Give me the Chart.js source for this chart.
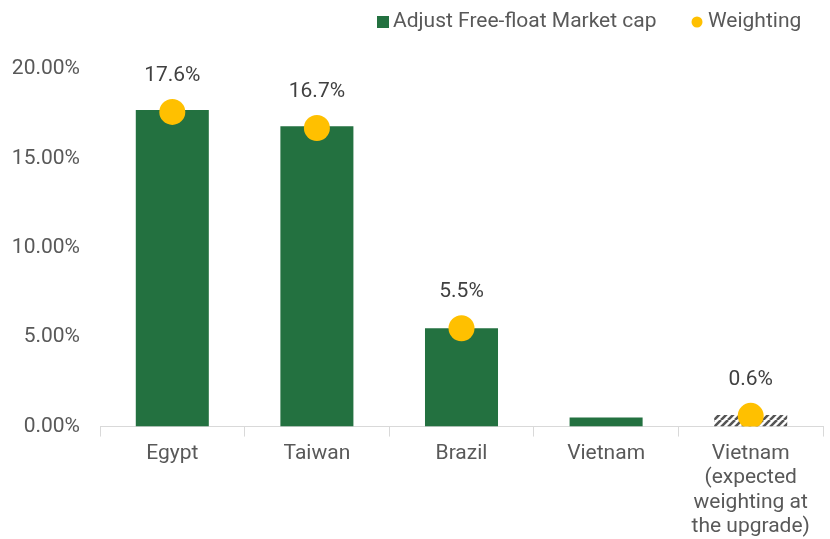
<!DOCTYPE html>
<html>
<head>
<meta charset="utf-8">
<script src="https://cdn.jsdelivr.net/npm/chart.js@4/dist/chart.umd.min.js"></script>
<style>
html,body{margin:0;padding:0;background:#fff;}
#wrap{width:830px;height:539px;}
</style>
</head>
<body>
<div id="wrap"><canvas id="c" width="830" height="539"></canvas></div>
<script>
const categories = [["Egypt"], ["Taiwan"], ["Brazil"], ["Vietnam"], ["Vietnam", "(expected", "weighting at", "the upgrade)"]];
const marketCap = [17.7, 16.8, 5.5, 0.5, 0.65];
const weighting = [17.6, 16.7, 5.5, null, 0.6];
const weightingLabels = ["17.6%", "16.7%", "5.5%", null, "0.6%"];
const yTicks = [0, 5, 10, 15, 20];
const seriesNames = ["Adjust Free-float Market cap", "Weighting"];

const FONT = 'Roboto';
const green = '#237140';
const yellow = '#FFC000';

// hatched pattern
function makePattern() {
  const p = document.createElement('canvas');
  p.width = 7; p.height = 7;
  const g = p.getContext('2d');
  g.fillStyle = '#ffffff';
  g.fillRect(0, 0, 7, 7);
  g.strokeStyle = '#555555';
  g.lineWidth = 2.6;
  g.beginPath();
  for (let k = -7; k <= 14; k += 7) {
    g.moveTo(k, 7); g.lineTo(k + 7, 0);
  }
  g.stroke();
  return document.getElementById('c').getContext('2d').createPattern(p, 'repeat');
}
const hatch = makePattern();
const barColors = [green, green, green, green, hatch];

const labelPlugin = {
  id: 'dotLabels',
  afterDatasetsDraw(chart) {
    const meta = chart.getDatasetMeta(1);
    const ctx = chart.ctx;
    ctx.save();
    ctx.font = '21px ' + FONT;
    ctx.fillStyle = '#404040';
    ctx.textAlign = 'center';
    ctx.textBaseline = 'middle';
    meta.data.forEach((pt, i) => {
      if (weightingLabels[i] == null) return;
      ctx.fillText(weightingLabels[i], pt.x, pt.y - 36);
    });
    ctx.restore();
  }
};

const legendPlugin = {
  id: 'customLegend',
  afterDraw(chart) {
    const ctx = chart.ctx;
    ctx.save();
    ctx.font = '21px ' + FONT;
    ctx.textBaseline = 'middle';
    ctx.textAlign = 'left';
    const cy = 22;
    ctx.fillStyle = green;
    ctx.fillRect(377, cy - 6, 12, 12);
    ctx.fillStyle = '#595959';
    ctx.fillText(seriesNames[0], 393, cy);
    ctx.fillStyle = yellow;
    ctx.beginPath();
    ctx.arc(697, cy, 5.5, 0, Math.PI * 2);
    ctx.fill();
    ctx.fillStyle = '#595959';
    ctx.fillText(seriesNames[1], 708, cy);
    ctx.restore();
  }
};

new Chart(document.getElementById('c'), {
  data: {
    labels: categories,
    datasets: [
      {
        type: 'bar',
        label: seriesNames[0],
        data: marketCap,
        backgroundColor: barColors,
        borderWidth: 0,
        barPercentage: 0.505,
        categoryPercentage: 1.0,
        order: 2
      },
      {
        type: 'line',
        label: seriesNames[1],
        data: weighting,
        showLine: false,
        pointRadius: 13,
        pointHoverRadius: 13,
        pointBackgroundColor: yellow,
        pointBorderWidth: 0,
        borderColor: yellow,
        backgroundColor: yellow,
        order: 1
      }
    ]
  },
  options: {
    responsive: false,
    animation: false,
    devicePixelRatio: 1,
    layout: { autoPadding: false, padding: { top: 69, right: 7, left: 12, bottom: -5 } },
    plugins: {
      tooltip: { enabled: false },
      legend: { display: false }
    },
    scales: {
      x: {
        offset: true,
        grid: { drawOnChartArea: false, drawTicks: true, tickLength: 10, color: '#d9d9d9', offset: true },
        border: { display: true, color: '#d9d9d9', width: 1 },
        ticks: { color: '#595959', font: { family: FONT, size: 21, lineHeight: 1.16 }, padding: 5, maxRotation: 0, autoSkip: false },
        afterFit(axis) { axis.paddingLeft = 0; axis.paddingRight = 0; }
      },
      y: {
        min: 0,
        max: 20,
        afterBuildTicks(axis) { axis.ticks = yTicks.map(v => ({ value: v })); },
        afterFit(axis) { axis.width = 88; },
        grid: { display: false, drawTicks: false, tickLength: 0 },
        border: { display: false },
        ticks: {
          color: '#595959',
          padding: 20,
          font: { family: FONT, size: 21 },
          callback: v => v.toFixed(2) + '%'
        }
      }
    }
  },
  plugins: [labelPlugin, legendPlugin]
});
</script>
</body>
</html>
